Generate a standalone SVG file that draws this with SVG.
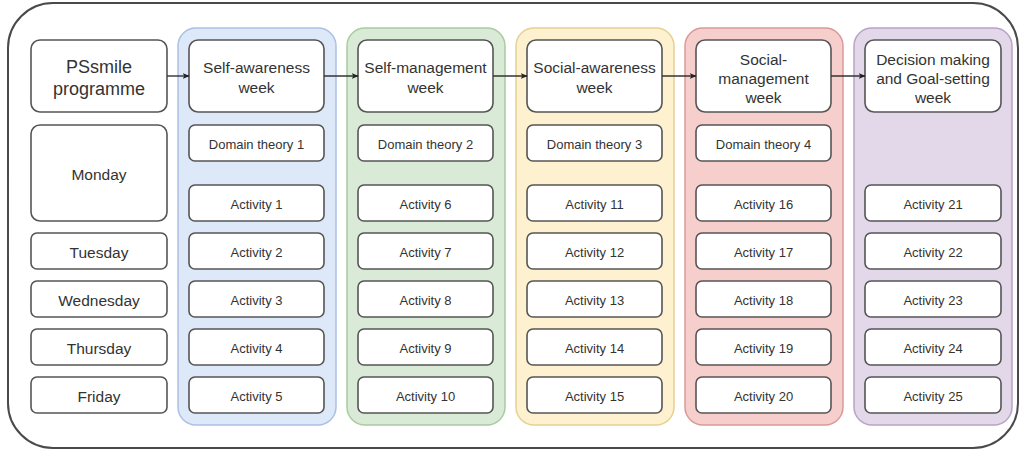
<svg xmlns="http://www.w3.org/2000/svg" width="1023" height="452" viewBox="0 0 1023 452">
<style>
.frame{fill:#ffffff;stroke:#4a4a4a;stroke-width:2}
.box{fill:#ffffff;stroke:#555555;stroke-width:1.6}
.t{font-family:"Liberation Sans",Arial,sans-serif;fill:#333333;text-anchor:middle;dominant-baseline:central}
.big{font-size:18px}
.md{font-size:15.5px}
.sm{font-size:13px}
.blue{fill:#dde9f9;stroke:#a9c1e3;stroke-width:1.5}
.green{fill:#d9ead7;stroke:#a8cc9f;stroke-width:1.5}
.yellow{fill:#fdf1cf;stroke:#e6d192;stroke-width:1.5}
.red{fill:#f6cfcd;stroke:#d99a97;stroke-width:1.5}
.purple{fill:#e3d8e9;stroke:#b9a3c8;stroke-width:1.5}
.conn{stroke:#333333;stroke-width:1.4;fill:none;marker-end:url(#arr)}
</style>
<defs>
<marker id="arr" viewBox="0 0 10 10" refX="9" refY="5" markerWidth="7" markerHeight="7" orient="auto" markerUnits="userSpaceOnUse">
<path d="M0,1 L10,5 L0,9 L2.5,5 Z" fill="#222222"/>
</marker>
</defs>
<rect class="frame" x="8" y="3" width="1010" height="445" rx="45"/>

<g id="left">
<g id="ps"><rect class="box" x="31" y="40" width="136" height="72" rx="9"/><text class="t big" x="99" y="67">PSsmile</text><text class="t big" x="99" y="89">programme</text></g>
<g id="monday"><rect class="box" x="31" y="125" width="136" height="96" rx="9"/><text class="t md" x="99" y="174">Monday</text></g>
<g id="tuesday"><rect class="box" x="31" y="233" width="136" height="36" rx="6"/><text class="t md" x="99" y="252">Tuesday</text></g>
<g id="wednesday"><rect class="box" x="31" y="281" width="136" height="36" rx="6"/><text class="t md" x="99" y="300">Wednesday</text></g>
<g id="thursday"><rect class="box" x="31" y="329" width="136" height="36" rx="6"/><text class="t md" x="99" y="348">Thursday</text></g>
<g id="friday"><rect class="box" x="31" y="377" width="136" height="36" rx="6"/><text class="t md" x="99" y="396">Friday</text></g>
</g>

<g id="col1">
<rect class="blue" x="178" y="28" width="158" height="397" rx="18"/>
<g id="w1"><rect class="box" x="189" y="40" width="135" height="72" rx="9"/><text class="t md" x="256.5" y="67">Self-awareness</text><text class="t md" x="256.5" y="87">week</text></g>
<g id="d1"><rect class="box" x="189" y="125" width="135" height="36" rx="6"/><text class="t sm" x="256.5" y="144">Domain theory 1</text></g>
<g id="a1"><rect class="box" x="189" y="185" width="135" height="36" rx="6"/><text class="t sm" x="256.5" y="204">Activity 1</text></g>
<g id="a2"><rect class="box" x="189" y="233" width="135" height="36" rx="6"/><text class="t sm" x="256.5" y="252">Activity 2</text></g>
<g id="a3"><rect class="box" x="189" y="281" width="135" height="36" rx="6"/><text class="t sm" x="256.5" y="300">Activity 3</text></g>
<g id="a4"><rect class="box" x="189" y="329" width="135" height="36" rx="6"/><text class="t sm" x="256.5" y="348">Activity 4</text></g>
<g id="a5"><rect class="box" x="189" y="377" width="135" height="36" rx="6"/><text class="t sm" x="256.5" y="396">Activity 5</text></g>
</g>

<g id="col2">
<rect class="green" x="347" y="28" width="158" height="397" rx="18"/>
<g id="w2"><rect class="box" x="358" y="40" width="135" height="72" rx="9"/><text class="t md" x="425.5" y="67">Self-management</text><text class="t md" x="425.5" y="87">week</text></g>
<g id="d2"><rect class="box" x="358" y="125" width="135" height="36" rx="6"/><text class="t sm" x="425.5" y="144">Domain theory 2</text></g>
<g id="a6"><rect class="box" x="358" y="185" width="135" height="36" rx="6"/><text class="t sm" x="425.5" y="204">Activity 6</text></g>
<g id="a7"><rect class="box" x="358" y="233" width="135" height="36" rx="6"/><text class="t sm" x="425.5" y="252">Activity 7</text></g>
<g id="a8"><rect class="box" x="358" y="281" width="135" height="36" rx="6"/><text class="t sm" x="425.5" y="300">Activity 8</text></g>
<g id="a9"><rect class="box" x="358" y="329" width="135" height="36" rx="6"/><text class="t sm" x="425.5" y="348">Activity 9</text></g>
<g id="a10"><rect class="box" x="358" y="377" width="135" height="36" rx="6"/><text class="t sm" x="425.5" y="396">Activity 10</text></g>
</g>

<g id="col3">
<rect class="yellow" x="516" y="28" width="158" height="397" rx="18"/>
<g id="w3"><rect class="box" x="527" y="40" width="135" height="72" rx="9"/><text class="t md" x="594.5" y="67">Social-awareness</text><text class="t md" x="594.5" y="87">week</text></g>
<g id="d3"><rect class="box" x="527" y="125" width="135" height="36" rx="6"/><text class="t sm" x="594.5" y="144">Domain theory 3</text></g>
<g id="a11"><rect class="box" x="527" y="185" width="135" height="36" rx="6"/><text class="t sm" x="594.5" y="204">Activity 11</text></g>
<g id="a12"><rect class="box" x="527" y="233" width="135" height="36" rx="6"/><text class="t sm" x="594.5" y="252">Activity 12</text></g>
<g id="a13"><rect class="box" x="527" y="281" width="135" height="36" rx="6"/><text class="t sm" x="594.5" y="300">Activity 13</text></g>
<g id="a14"><rect class="box" x="527" y="329" width="135" height="36" rx="6"/><text class="t sm" x="594.5" y="348">Activity 14</text></g>
<g id="a15"><rect class="box" x="527" y="377" width="135" height="36" rx="6"/><text class="t sm" x="594.5" y="396">Activity 15</text></g>
</g>

<g id="col4">
<rect class="red" x="685" y="28" width="158" height="397" rx="18"/>
<g id="w4"><rect class="box" x="696" y="40" width="135" height="72" rx="9"/><text class="t md" x="763.5" y="59">Social-</text><text class="t md" x="763.5" y="78">management</text><text class="t md" x="763.5" y="97">week</text></g>
<g id="d4"><rect class="box" x="696" y="125" width="135" height="36" rx="6"/><text class="t sm" x="763.5" y="144">Domain theory 4</text></g>
<g id="a16"><rect class="box" x="696" y="185" width="135" height="36" rx="6"/><text class="t sm" x="763.5" y="204">Activity 16</text></g>
<g id="a17"><rect class="box" x="696" y="233" width="135" height="36" rx="6"/><text class="t sm" x="763.5" y="252">Activity 17</text></g>
<g id="a18"><rect class="box" x="696" y="281" width="135" height="36" rx="6"/><text class="t sm" x="763.5" y="300">Activity 18</text></g>
<g id="a19"><rect class="box" x="696" y="329" width="135" height="36" rx="6"/><text class="t sm" x="763.5" y="348">Activity 19</text></g>
<g id="a20"><rect class="box" x="696" y="377" width="135" height="36" rx="6"/><text class="t sm" x="763.5" y="396">Activity 20</text></g>
</g>

<g id="col5">
<rect class="purple" x="854" y="28" width="158" height="397" rx="18"/>
<g id="w5"><rect class="box" x="865" y="40" width="136" height="72" rx="9"/><text class="t md" x="933" y="59">Decision making</text><text class="t md" x="933" y="78">and Goal-setting</text><text class="t md" x="933" y="97">week</text></g>
<g id="a21"><rect class="box" x="865" y="185" width="136" height="36" rx="6"/><text class="t sm" x="933" y="204">Activity 21</text></g>
<g id="a22"><rect class="box" x="865" y="233" width="136" height="36" rx="6"/><text class="t sm" x="933" y="252">Activity 22</text></g>
<g id="a23"><rect class="box" x="865" y="281" width="136" height="36" rx="6"/><text class="t sm" x="933" y="300">Activity 23</text></g>
<g id="a24"><rect class="box" x="865" y="329" width="136" height="36" rx="6"/><text class="t sm" x="933" y="348">Activity 24</text></g>
<g id="a25"><rect class="box" x="865" y="377" width="136" height="36" rx="6"/><text class="t sm" x="933" y="396">Activity 25</text></g>
</g>

<g id="connectors">
<line class="conn" x1="167" y1="76" x2="189" y2="76"/>
<line class="conn" x1="324" y1="76" x2="358" y2="76"/>
<line class="conn" x1="493" y1="76" x2="527" y2="76"/>
<line class="conn" x1="662" y1="76" x2="696" y2="76"/>
<line class="conn" x1="831" y1="76" x2="865" y2="76"/>
</g>
</svg>
